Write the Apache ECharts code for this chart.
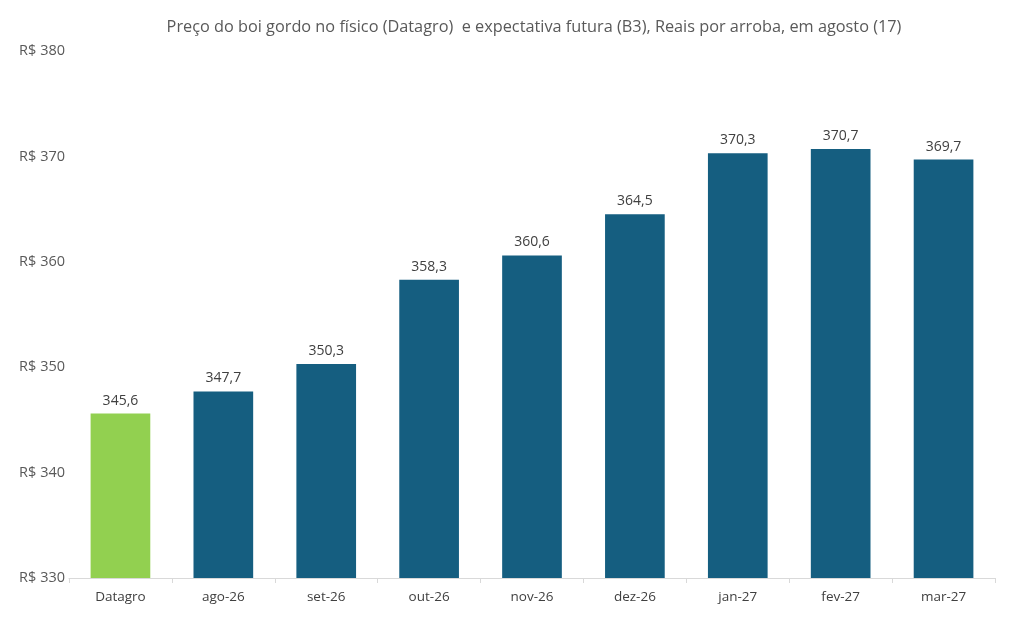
<!DOCTYPE html>
<html><head><meta charset="utf-8">
<script src="https://cdn.jsdelivr.net/npm/echarts@6/dist/echarts.min.js"></script>
<style>html,body{margin:0;padding:0;background:#fff}#c{width:1011px;height:629px}</style>
</head><body><div id="c"></div>
<script>
const categories = ['Datagro','ago-26','set-26','out-26','nov-26','dez-26','jan-27','fev-27','mar-27'];
const values = [345.6, 347.7, 350.3, 358.3, 360.6, 364.5, 370.3, 370.7, 369.7];
const titleText = 'Preço do boi gordo no físico (Datagro)  e expectativa futura (B3), Reais por arroba, em agosto (17)';
const chart = echarts.init(document.getElementById('c'));
const font = '"Open Sans", "Liberation Sans", sans-serif';
chart.setOption({
  animation: false,
  title: { text: titleText, left: 529, textAlign: 'center', top: 14,
    textStyle: { fontFamily: font, fontSize: 16.3, fontWeight: 'normal', color: '#595959' } },
  grid: { left: 69, right: 16, top: 51, bottom: 51 },
  xAxis: { type: 'category', data: categories,
    axisLine: { lineStyle: { color: '#d9d9d9' } },
    axisTick: { show: true, lineStyle: { color: '#d9d9d9' }, length: 5 },
    axisLabel: { fontFamily: font, fontSize: 13.5, color: '#404040', margin: 12 } },
  yAxis: { type: 'value', min: 330, max: 380, interval: 10,
    splitLine: { show: false }, axisLine: { show: false }, axisTick: { show: false },
    axisLabel: { fontFamily: font, fontSize: 14.5, color: '#595959', margin: 4,
      formatter: v => 'R$ ' + v } },
  series: [{ type: 'bar', barWidth: '58%',
    data: values.map((v,i) => ({ value: v, itemStyle: { color: i === 0 ? '#92D050' : '#155E80' } })),
    label: { show: true, position: 'top', distance: 6, fontFamily: font, fontSize: 14, color: '#404040',
      formatter: p => p.value.toFixed(1).replace('.', ',') } }]
});
</script></body></html>
